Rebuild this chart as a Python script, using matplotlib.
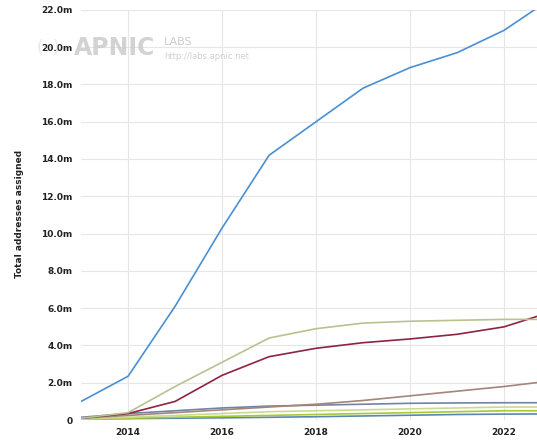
import matplotlib.pyplot as plt

years = [2013, 2014, 2015, 2016, 2017, 2018, 2019, 2020, 2021, 2022, 2023]

s_blue = [1.0, 2.35, 6.1, 10.3, 14.2, 16.0, 17.8, 18.9, 19.7, 20.9, 22.6]
s_olive = [0.1, 0.4, 1.8, 3.1, 4.4, 4.9, 5.2, 5.3, 5.35, 5.4, 5.4]
s_maroon = [0.1, 0.35, 1.0, 2.4, 3.4, 3.85, 4.15, 4.35, 4.6, 5.0, 5.8]
s_brown = [0.1, 0.25, 0.4, 0.55, 0.7, 0.85, 1.05, 1.3, 1.55, 1.8, 2.1]
s_slate = [0.15, 0.35, 0.5, 0.65, 0.75, 0.8, 0.85, 0.9, 0.92, 0.93, 0.93]
s_lgreen = [0.05, 0.15, 0.25, 0.35, 0.45, 0.5, 0.55, 0.6, 0.65, 0.7, 0.7]
s_yellow = [0.05, 0.1, 0.15, 0.2, 0.25, 0.3, 0.35, 0.4, 0.45, 0.5, 0.5]
s_steel = [0.05, 0.08, 0.1, 0.12, 0.15, 0.18, 0.22, 0.26, 0.3, 0.32, 0.33]

series = [
    (s_blue, '#4a8fd6'),
    (s_olive, '#b8c28e'),
    (s_maroon, '#8e2344'),
    (s_brown, '#a3857a'),
    (s_slate, '#7283a6'),
    (s_lgreen, '#c9dc8c'),
    (s_yellow, '#a8c83a'),
    (s_steel, '#5a87b0'),
]

ytick_vals = [0, 2, 4, 6, 8, 10, 12, 14, 16, 18, 20, 22]
ytick_labels = ['0', '2.0m', '4.0m', '6.0m', '8.0m', '10.0m', '12.0m', '14.0m',
                '16.0m', '18.0m', '20.0m', '22.0m']
xtick_vals = [2014, 2016, 2018, 2020, 2022]

fig = plt.figure(figsize=(5.37, 4.45), dpi=100)
ax = fig.add_axes([0.151, 0.056, 0.849, 0.922])

for vals, col in reversed(series):
    ax.plot(years, vals, color=col, linewidth=1.2, solid_joinstyle='round')

ax.set_xlim(2013, 2022.7)
ax.set_ylim(0, 22)
ax.set_yticks(ytick_vals)
ax.set_yticklabels(ytick_labels)
ax.set_xticks(xtick_vals)
ax.set_xticklabels([str(x) for x in xtick_vals])
ax.tick_params(length=0, labelsize=6.5, colors='#222222', pad=6)
for lab in ax.get_xticklabels() + ax.get_yticklabels():
    lab.set_fontweight('bold')
ax.grid(True, color='#e6e6e6', linewidth=0.8)
ax.set_axisbelow(True)
for sp in ax.spines.values():
    sp.set_visible(False)

fig.text(0.037, 0.52, 'Total addresses assigned', rotation=90, fontsize=6.5,
         fontweight='bold', va='center', ha='center', color='#222222')

# watermark
fig.text(0.138, 0.893, 'APNIC', fontsize=17, fontweight='bold', color='#c8c8c8',
         alpha=0.8, va='center')
fig.text(0.068, 0.893, '(··)', fontsize=12, color='#d4d4d4', alpha=0.5, va='center')
fig.text(0.305, 0.905, 'LABS', fontsize=8, color='#cccccc', va='center')
fig.text(0.305, 0.872, 'http://labs.apnic.net', fontsize=6, color='#d0d0d0', va='center')

fig.savefig('out.png', dpi=100)
